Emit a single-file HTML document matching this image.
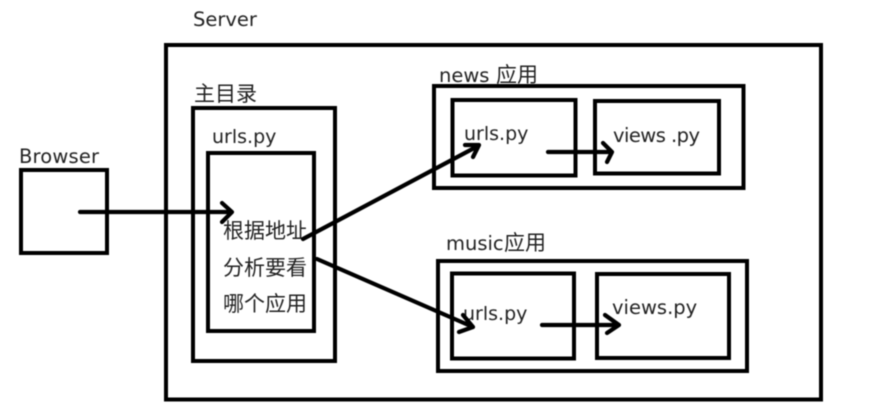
<!DOCTYPE html>
<html>
<head>
<meta charset="utf-8">
<style>
html,body{margin:0;padding:0;background:#fff;}
body{width:875px;height:414px;overflow:hidden;}
svg{display:block;filter:blur(0.45px);}
text{font-family:"DejaVu Sans","Liberation Sans","Noto Sans CJK SC",sans-serif;fill:#222;font-size:19.5px;}
.cjk{font-family:"Noto Sans CJK SC","Liberation Sans",sans-serif;font-size:21px;}
.u{font-size:19px;}
rect{fill:none;stroke:#000;stroke-width:4;}
.l{stroke:#000;stroke-width:4.2;fill:none;stroke-linecap:round;stroke-linejoin:round;}
</style>
</head>
<body>
<svg width="875" height="414" viewBox="0 0 875 414" xmlns="http://www.w3.org/2000/svg">
<rect x="166" y="45" width="655" height="354.5"/>
<rect x="193" y="108" width="142" height="253"/>
<rect x="208" y="153" width="106" height="178"/>
<rect x="21" y="170" width="86" height="83"/>
<rect x="434" y="86" width="309.500" height="102"/>
<rect x="452.500" y="100" width="123" height="75.500"/>
<rect x="595" y="101" width="124" height="72.500"/>
<rect x="438" y="261" width="309" height="110"/>
<rect x="452" y="273.500" width="122" height="85"/>
<rect x="597" y="274" width="132" height="84"/>

<text x="193" y="26">Server</text>
<text x="19" y="163" textLength="80">Browser</text>
<text x="194" y="101" class="cjk">主目录</text>
<text x="212" y="143" class="u">urls.py</text>
<text x="439" y="82">news</text>
<text x="496" y="82" class="cjk">应用</text>
<text x="446" y="250">music</text>
<text x="504" y="250" class="cjk">应用</text>
<text x="464" y="140" class="u">urls.py</text>
<text x="613" y="142" textLength="87">views .py</text>
<text x="463" y="320" class="u">urls.py</text>
<text x="612" y="314">views.py</text>
<text x="223" y="238" class="cjk">根据地址</text>
<text x="223" y="275" class="cjk">分析要看</text>
<text x="223" y="311" class="cjk">哪个应用</text>

<path class="l" d="M80 212H231M222 203L232 212L222 222"/>
<path class="l" d="M303 239L478 146M465 145L479 145L473 157"/>
<path class="l" d="M317 259L473 327M463 315L473 327L459 332"/>
<path class="l" d="M548 152H611M603 143L612 152L607 162"/>
<path class="l" d="M542 325H618M605 315L619 325L607 333"/>
</svg>
</body>
</html>
